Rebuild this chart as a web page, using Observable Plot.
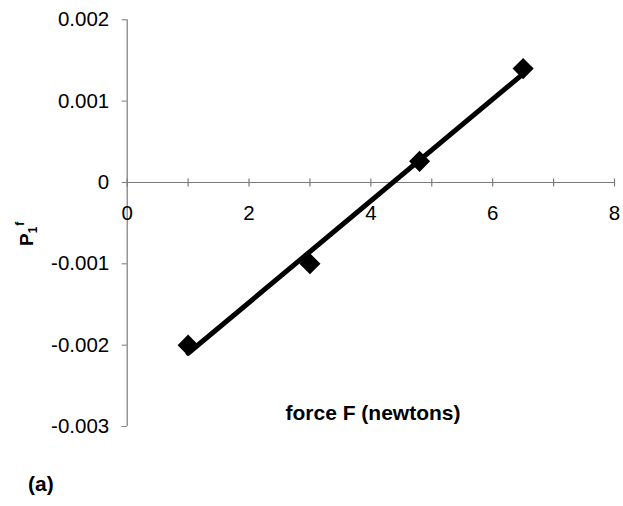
<!DOCTYPE html>
<html>
<head>
<meta charset="utf-8">
<script src="https://cdn.jsdelivr.net/npm/d3@7"></script>
<script src="https://cdn.jsdelivr.net/npm/@observablehq/plot@0.6"></script>
<style>
  html, body { margin: 0; padding: 0; background: white; }
  #chart { width: 623px; height: 506px; }
</style>
</head>
<body>
<div id="chart"></div>
<script>
// Data
const forces = [1, 3, 4.8, 6.5];
const p1f = [-0.002, -0.001, 0.00026, 0.0014];
const xTickValues = [0, 1, 2, 3, 4, 5, 6, 7, 8];
const xLabelValues = [0, 2, 4, 6, 8];
const yTickValues = [0.002, 0.001, 0, -0.001, -0.002, -0.003];
const xTitle = "force F (newtons)";
const panelLabel = "(a)";

const data = forces.map((f, i) => ({F: f, P: p1f[i]}));

const FONT = "'Liberation Sans', Arial, Helvetica, sans-serif";
const AXIS = "#7a7a7a";

// vertical tick symbol that crosses the x axis line
const crossTick = {draw(ctx) { ctx.moveTo(0, -4); ctx.lineTo(0, 4); }};

const plot = Plot.plot({
  width: 623,
  height: 506,
  marginLeft: 126.7,
  marginRight: 9,
  marginTop: 19.3,
  marginBottom: 80,
  style: {fontFamily: FONT, fontSize: "20px", color: "black", background: "white"},
  x: {domain: [0, 8], axis: null},
  y: {domain: [-0.003, 0.002]},
  marks: [
    Plot.ruleX([0], {stroke: AXIS, strokeWidth: 1.2}),
    Plot.ruleY([0], {stroke: AXIS, strokeWidth: 1.2}),
    Plot.axisY(yTickValues, {
      tickSize: 5, tickPadding: 13, stroke: AXIS, fill: "black",
      tickFormat: d => String(d), label: null, fontSize: 20.5
    }),
    Plot.dot(xTickValues, {x: d => d, y: () => 0, symbol: crossTick, stroke: AXIS, strokeWidth: 1.2, r: 4}),
    Plot.text(xLabelValues, {x: d => d, y: () => 0, dy: 31, text: d => String(d), fill: "black", fontSize: 20.5}),
    Plot.linearRegressionY(data, {x: "F", y: "P", ci: 0, stroke: "black", strokeWidth: 5}),
    Plot.dot(data, {x: "F", y: "P", symbol: "diamond2", r: 9.5, fill: "black", stroke: "none"})
  ]
});

const svg = d3.select(plot);
svg.append("text")
  .attr("x", 373).attr("y", 420)
  .attr("text-anchor", "middle")
  .attr("font-family", FONT).attr("font-size", 21).attr("font-weight", "bold")
  .attr("fill", "black")
  .text(xTitle);

svg.append("text")
  .attr("x", 28).attr("y", 491)
  .attr("text-anchor", "start")
  .attr("font-family", FONT).attr("font-size", 21).attr("font-weight", "bold")
  .attr("fill", "black")
  .text(panelLabel);

const yl = svg.append("text")
  .attr("transform", "translate(33,246) rotate(-90)")
  .attr("text-anchor", "start")
  .attr("font-family", FONT).attr("font-weight", "bold")
  .attr("fill", "black");
yl.append("tspan").attr("font-size", 19).text("P");
yl.append("tspan").attr("font-size", 12).attr("dy", 4).text("1");
yl.append("tspan").attr("font-size", 12).attr("dy", -13).attr("dx", 1).text("f");

document.getElementById("chart").appendChild(plot);
</script>
</body>
</html>
